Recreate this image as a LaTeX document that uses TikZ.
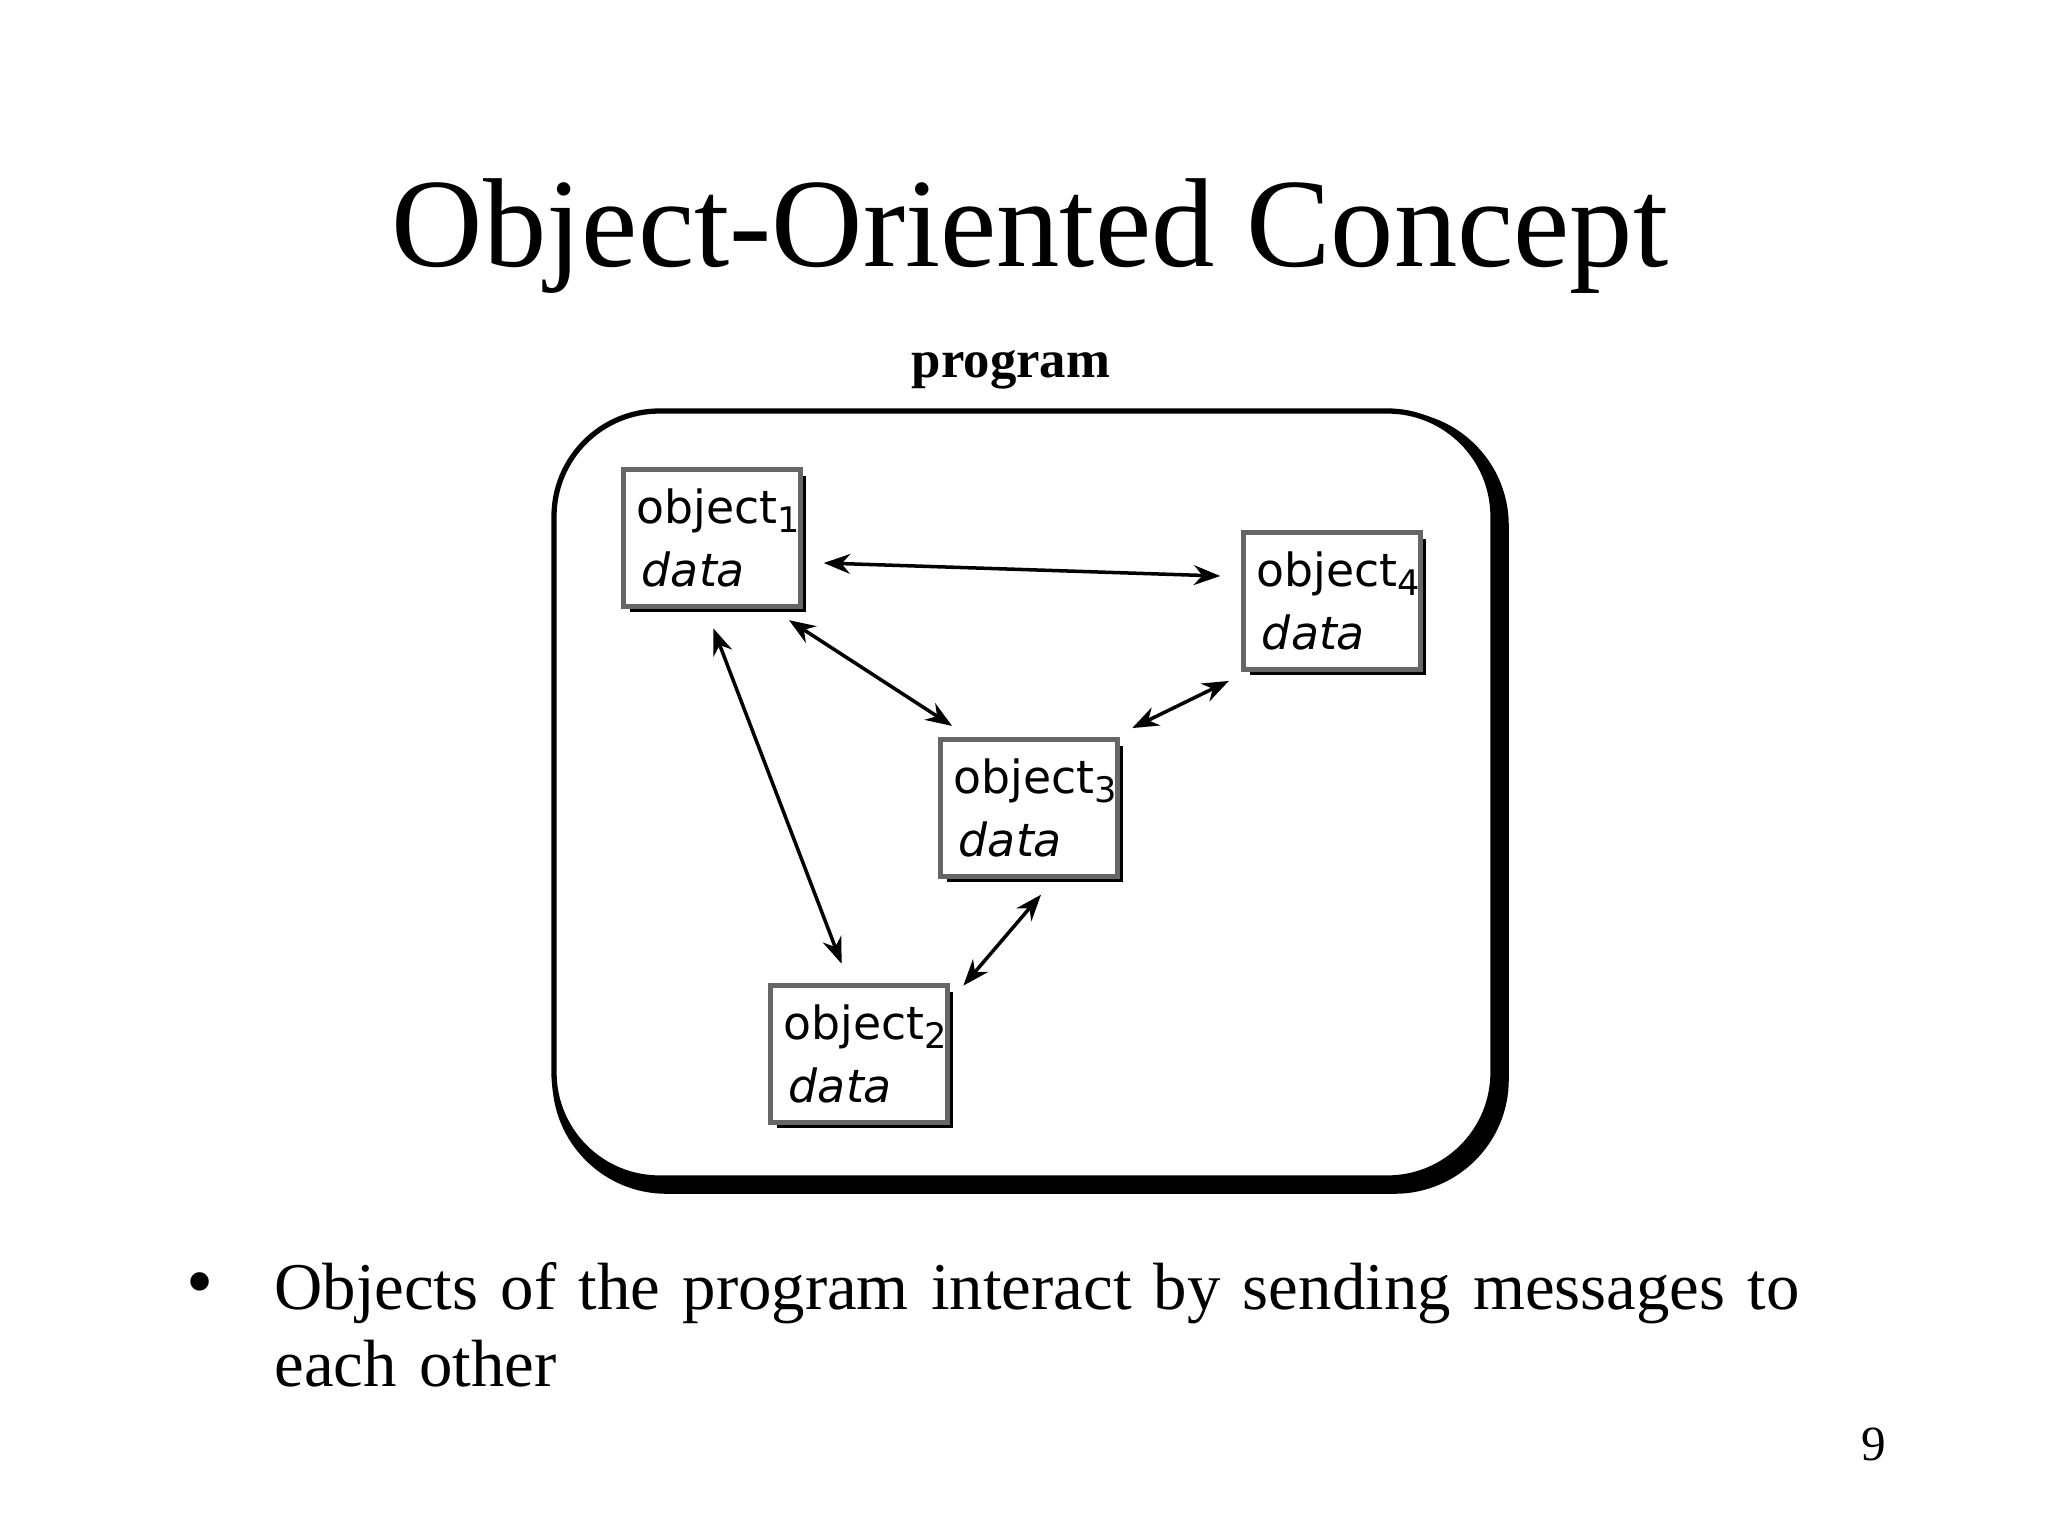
\documentclass[tikz,border=0pt]{standalone}
\usepackage{fontspec}
\setmainfont{Liberation Serif}
\newfontfamily\boxfont{DejaVu Sans}
\usetikzlibrary{arrows.meta}
\newcommand{\subsc}[1]{\raisebox{-0.35ex}{\fontsize{10pt}{10pt}\selectfont #1}}
\tikzset{
  objbox/.style={draw=black!60, line width=1.2pt, fill=white, minimum width=1.77cm, minimum height=1.37cm, text width=1.5cm, align=left, font=\boxfont\fontsize{13pt}{18pt}\selectfont, inner sep=0pt},
  msg/.style={Stealth-Stealth, line width=1pt, shorten <=6pt, shorten >=6pt}
}
\begin{document}
\begin{tikzpicture}[x=0.01cm,y=-0.01cm]
\useasboundingbox (0,0) rectangle (2048,1536);
\node[font=\fontsize{36pt}{42pt}\selectfont] (title) at (1030,236) {Object-Oriented Concept};
\node[font=\bfseries\fontsize{15pt}{18pt}\selectfont] (prog) at (1011,370) {program};
% outer container with shadow
\draw[line width=5pt, rounded corners=30] (561,420) rectangle (1500,1185);
\draw[fill=white, line width=1.5pt, rounded corners=30] (554,411) rectangle (1493,1178);
% objects
\foreach \n/\x/\y/\s in {o1/712/538/1, o4/1332/601/4, o3/1029/808/3, o2/859/1054/2}{
  \fill (\x-82,\y-62) rectangle (\x+94,\y+74);
  \node[objbox] (\n) at (\x,\y) {object\subsc{\s}\\\hspace*{0.05cm}\textit{data}};
}
\draw[msg] (o1.-15) -- (o4.165);
\draw[msg] (o1.-50) -- (o3.130);
\draw[msg] (o1.-95) -- (o2.98);
\draw[msg] (o4.-140) -- (o3.40);
\draw[msg] (o3.-70) -- (o2.30);
% bullet text
\node[font=\fontsize{22pt}{24pt}\selectfont] (bul) at (200,1290) {•};
\node[anchor=north west, align=left, font=\fontsize{19pt}{22pt}\selectfont, text width=17cm] (txt) at (262,1250) {Objects of the program interact by sending messages to\\ each other};
\node[font=\fontsize{14pt}{16pt}\selectfont] (pg) at (1874,1444) {9};
\end{tikzpicture}
\end{document}
